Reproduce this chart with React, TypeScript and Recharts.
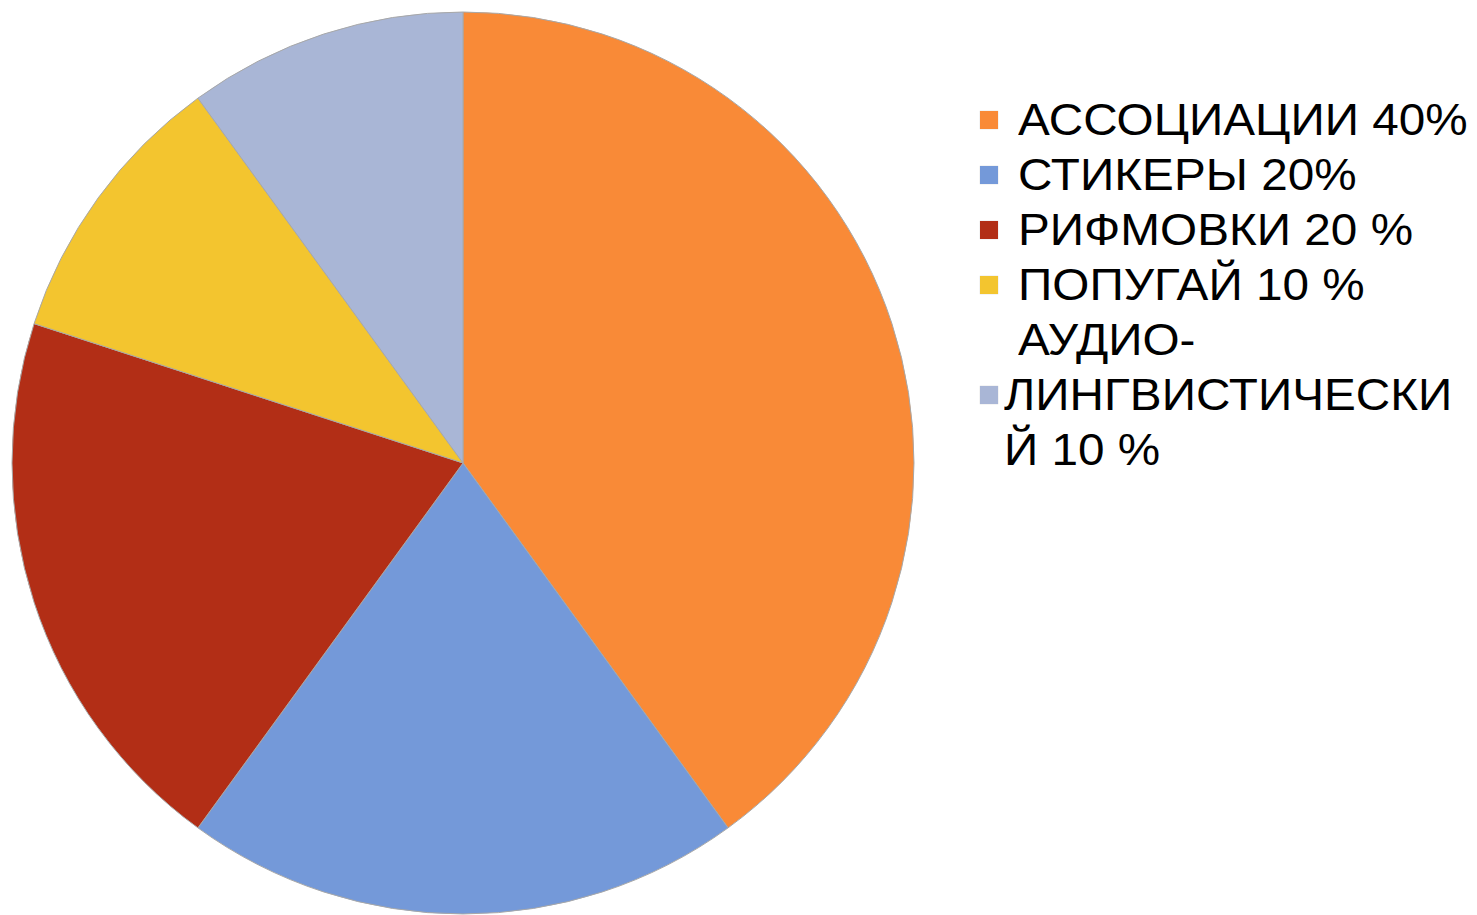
import React from "react";
import { PieChart, Pie, Cell, Legend } from "recharts";

const categories = ["АССОЦИАЦИИ", "СТИКЕРЫ", "РИФМОВКИ", "ПОПУГАЙ", "АУДИО-ЛИНГВИСТИЧЕСКИЙ"];
const values = [40, 20, 20, 10, 10];
const legendLabels = [
  ["АССОЦИАЦИИ 40%"],
  ["СТИКЕРЫ 20%"],
  ["РИФМОВКИ 20 %"],
  ["ПОПУГАЙ 10 %"],
  ["АУДИО-", "ЛИНГВИСТИЧЕСКИ", "Й 10 %"],
];
const colors = ["#F98A37", "#7499D9", "#B22E16", "#F3C52F", "#A9B6D6"];

const data = categories.map((name, i) => ({ name, value: values[i] }));

const FONT = "'Liberation Sans', Arial, sans-serif";
const LINE = 55;

function LegendContent() {
  let row = 0;
  const items: React.ReactNode[] = [];
  legendLabels.forEach((lines, i) => {
    const multi = lines.length > 1;
    const squareRow = multi ? row + 1 : row;
    items.push(
      <div
        key={"sq" + i}
        style={{
          position: "absolute",
          left: 0,
          top: squareRow * LINE + 16,
          width: 18,
          height: 18,
          background: colors[i],
          boxShadow: "0 0 1px rgba(0,0,0,0.25)",
        }}
      />
    );
    lines.forEach((t, j) => {
      const indentLeft = multi && j > 0 ? 24 : 38;
      items.push(
        <div
          key={"t" + i + "_" + j}
          style={{
            position: "absolute",
            left: indentLeft,
            top: row * LINE,
            fontFamily: FONT,
            fontSize: 45,
            lineHeight: "50px",
            color: "#000",
            whiteSpace: "nowrap",
            transform: "scaleX(1.06)",
            transformOrigin: "left center",
          }}
        >
          {t}
        </div>
      );
      row++;
    });
  });
  return <div style={{ position: "relative", width: 490, height: row * LINE }}>{items}</div>;
}

export default function App() {
  return (
    <div style={{ position: "absolute", left: 0, top: 0, width: 1477, height: 915, background: "#fff" }}>
      <PieChart width={1477} height={915} margin={{ top: 0, right: 0, bottom: 0, left: 0 }}>
        <Pie
          data={data}
          dataKey="value"
          nameKey="name"
          cx={463}
          cy={463}
          outerRadius={451}
          startAngle={90}
          endAngle={-270}
          stroke="#a8a8a8"
          strokeWidth={1}
          isAnimationActive={false}
        >
          {data.map((d, i) => (
            <Cell key={d.name} fill={colors[i]} />
          ))}
        </Pie>
        <Legend
          content={<LegendContent />}
          wrapperStyle={{ position: "absolute", left: 980, top: 95, width: 497 }}
        />
      </PieChart>
    </div>
  );
}
